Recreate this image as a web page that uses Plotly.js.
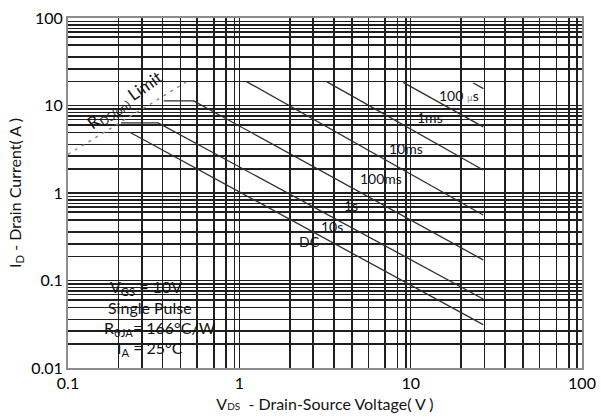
<!DOCTYPE html>
<html>
<head>
<meta charset="utf-8">
<script src="https://cdn.plot.ly/plotly-3.0.1.min.js"></script>
<style>html,body{margin:0;padding:0;background:#fff;}#chart{width:601px;height:418px;}</style>
</head>
<body>
<div id="chart"></div>
<script>
// ---- data (V in volts, I in amperes) ----
const rdsV   = [0.1, 0.489];
const rdsI   = [2.76, 18.5];
const us100V = [23.2, 26.6];
const us100I = [18.1, 15.6];
const ms1V   = [9.04, 26.5];
const ms1I   = [18.4, 5.7];
const ms10V  = [3.25, 26.5];
const ms10I  = [18.6, 1.83];
const ms100V = [1.094, 26.5];
const ms100I = [18.9, 0.561];
const s1V    = [0.362, 0.541, 26.5];
const s1I    = [11.3, 11.3, 0.172];
const s10V   = [0.204, 0.336, 26.5];
const s10I   = [6.33, 6.33, 0.0615];
const dcV    = [0.231, 26.5];
const dcI    = [4.92, 0.0313];

const xTickVals = [0.1, 1, 10, 100];
const xTickText = ["0.1", "1", "10", "100"];
const yTickVals = [0.01, 0.1, 1, 10, 100];
const yTickText = ["0.01", "0.1", "1", "10", "100"];

// grid multipliers inside each decade (as drawn in the reference)
const xGridMult = [1.972, 2.698, 3.565, 4.539, 5.662, 7.096, 8.375, 9.354];
const yGridMult = [1.88, 2.63, 3.59, 4.90, 6.03, 6.92, 7.59, 8.32, 9.12];

function gridVals(decades, mult) {
  const out = [];
  decades.forEach(d => mult.forEach(m => out.push(d * m)));
  return out;
}
const xMinor = gridVals([0.1, 1, 10], xGridMult);
const yMinor = gridVals([0.01, 0.1, 1, 10], yGridMult);

const lineStyle = {color: '#2e2e2e', width: 1.3};
function curve(x, y, name) {
  return {x: x, y: y, type: 'scatter', mode: 'lines', name: name, line: lineStyle, hoverinfo: 'skip'};
}
const traces = [
  {x: rdsV, y: rdsI, type: 'scatter', mode: 'lines', name: 'RDS(on) Limit',
   line: {color: '#8a8a8a', width: 1.4, dash: '3px,5px'}, hoverinfo: 'skip'},
  curve(us100V, us100I, '100us'),
  curve(ms1V, ms1I, '1ms'),
  curve(ms10V, ms10I, '10ms'),
  curve(ms100V, ms100I, '100ms'),
  curve(s1V, s1I, '1s'),
  curve(s10V, s10I, '10s'),
  curve(dcV, dcI, 'DC')
];

// pixel -> paper helpers for text placement
const L = 67.5, R = 582, T = 17.5, B = 368.5;
const px = x => (x - L) / (R - L);
const py = y => (B - y) / (B - T);
const lx = x => (x - L) / 171.5 - 1;      // pixel -> log10(V)
const ly = y => (193 - y) / 87.75;         // pixel -> log10(I)

const FONT = 'Lato, "Open Sans", sans-serif';
const TXT = '#141414';
function lab(text, x, y, size, angle) {
  return {text: text, x: lx(x), y: ly(y), xref: 'x', yref: 'y', showarrow: false,
          font: {family: FONT, size: size || 14, color: TXT}, textangle: angle || 0,
          xanchor: 'center', yanchor: 'middle'};
}
function ptxt(text, x, y, size) {
  return {text: text, x: px(x), y: py(y), xref: 'paper', yref: 'paper', showarrow: false,
          font: {family: FONT, size: size || 16, color: TXT}, xanchor: 'center', yanchor: 'middle'};
}

const annotations = [
  lab('R<sub>DS(on)</sub> Limit', 125, 101, 17, -35),
  lab("100 <span style='font-size:9px;color:#8a8a8a'>µ</span>s", 459, 95, 14),
  lab('1ms', 430, 117, 14),
  lab('10ms', 406, 148, 14),
  lab('100ms', 381, 178, 14),
  lab('1s', 351, 206, 14),
  lab('10s', 332, 227, 14),
  lab('DC', 309, 242, 14),
  ptxt('V<sub>GS</sub> = 10V', 146, 288),
  ptxt('Single Pulse', 150, 308),
  ptxt('R<sub>θJA</sub>= 166°C/W', 160, 329),
  ptxt('I<sub>A</sub> = 25°C', 150, 349)
];

const gridCol = '#1f1f1f';
const layout = {
  width: 601, height: 418,
  margin: {l: L, r: 601 - R, t: T, b: 418 - B, pad: 0},
  paper_bgcolor: '#fff', plot_bgcolor: '#fff',
  showlegend: false,
  font: {family: FONT, color: TXT},
  xaxis: {
    type: 'log', range: [-1, 2], autorange: false,
    tickmode: 'array', tickvals: xTickVals, ticktext: xTickText,
    tickfont: {family: FONT, size: 16, color: '#000'},
    ticks: '', showgrid: true, gridcolor: gridCol, gridwidth: 1.6,
    minor: {tickmode: 'array', tickvals: xMinor, showgrid: true, gridcolor: gridCol, gridwidth: 1.6, ticks: ''},
    showline: true, linecolor: '#8c8c8c', linewidth: 2, mirror: true,
    zeroline: false, automargin: false,
    title: {text: "V<span style='font-size:10px'>DS</span>  - Drain-Source Voltage( V )",
            font: {family: FONT, size: 16, color: TXT}, standoff: 8}
  },
  yaxis: {
    type: 'log', range: [-2, 2], autorange: false,
    tickmode: 'array', tickvals: yTickVals, ticktext: yTickText,
    tickfont: {family: FONT, size: 16, color: '#000'},
    ticks: '', showgrid: true, gridcolor: gridCol, gridwidth: 1.6,
    minor: {tickmode: 'array', tickvals: yMinor, showgrid: true, gridcolor: gridCol, gridwidth: 1.6, ticks: ''},
    showline: true, linecolor: '#8c8c8c', linewidth: 2, mirror: true,
    zeroline: false, automargin: false,
    title: {text: "I<sub>D</sub> - Drain Current( A )",
            font: {family: FONT, size: 16, color: TXT}, standoff: 6}
  },
  annotations: annotations
};

Plotly.newPlot('chart', traces, layout, {staticPlot: true, displayModeBar: false});
</script>
</body>
</html>
